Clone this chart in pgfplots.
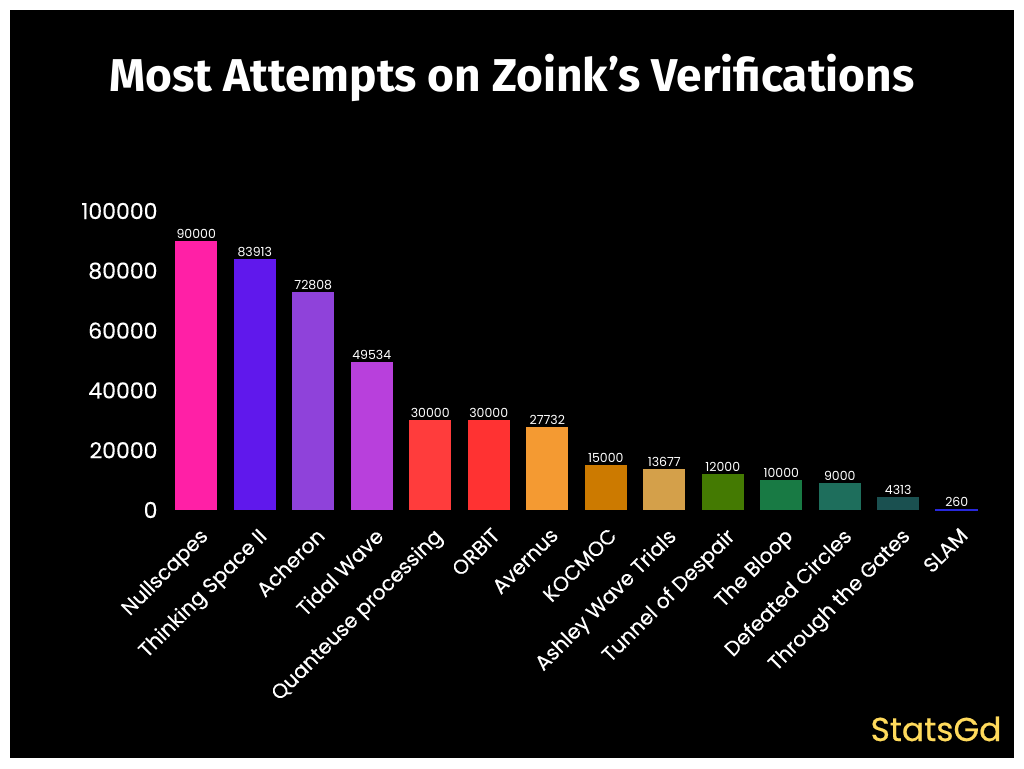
\documentclass[border=0pt]{standalone}
\usepackage{pgfplots}
\pgfplotsset{compat=1.18}
\usepackage{fontspec}
\setmainfont{Poppins}[FakeBold=0.3]
\newfontfamily\titlefont{Fira Sans}
\newfontfamily\medfont{Poppins}[FakeBold=0.6]
\newfontfamily\lightfont{Poppins}
\definecolor{c1}{RGB}{255,32,166}
\definecolor{c2}{RGB}{96,24,236}
\definecolor{c3}{RGB}{143,66,218}
\definecolor{c4}{RGB}{184,64,220}
\definecolor{c5}{RGB}{255,60,60}
\definecolor{c6}{RGB}{255,50,50}
\definecolor{c7}{RGB}{244,154,50}
\definecolor{c8}{RGB}{204,122,0}
\definecolor{c9}{RGB}{212,160,74}
\definecolor{c10}{RGB}{68,122,2}
\definecolor{c11}{RGB}{24,122,68}
\definecolor{c12}{RGB}{30,110,92}
\definecolor{c13}{RGB}{26,80,80}
\definecolor{c14}{RGB}{40,40,220}
\definecolor{brand}{RGB}{255,218,92}
\begin{document}
\begin{tikzpicture}
\useasboundingbox (0pt,0pt) rectangle (1024pt,768pt);
\fill[white] (0pt,0pt) rectangle (1024pt,768pt);
\fill[black] (10pt,10pt) rectangle (1014pt,758pt);
\node[anchor=base,text=white,font=\titlefont\bfseries\fontsize{46}{52}\selectfont] at (512pt,676pt) {Most Attempts on Zoink’s Verifications};
\node[anchor=base east,text=brand,font=\medfont\fontsize{33}{36}\selectfont] at (1005pt,27pt) {StatsGd};
\begin{axis}[
  at={(167pt,258pt)}, anchor=south west,
  scale only axis, width=819pt, height=299pt,
  xmin=-0.5, xmax=13.5, ymin=0, ymax=100000,
  axis line style={draw=none},
  major tick length=0pt,
  tick style={draw=none},
  scaled y ticks=false,
  ytick={0,20000,40000,60000,80000,100000},
  yticklabels={0,20000,40000,60000,80000,100000},
  yticklabel style={text=white,font=\fontsize{22}{25}\selectfont,xshift=-6pt},
  xtick={0,...,13},
  xticklabels={Nullscapes,Thinking Space II,Acheron,Tidal Wave,Quanteuse processing,ORBIT,Avernus,KOCMOC,Ashley Wave Trials,Tunnel of Despair,The Bloop,Defeated Circles,Through the Gates,SLAM},
  xticklabel style={text=white,font=\fontsize{20.5}{23}\selectfont,xshift=2pt,yshift=-15pt,rotate=45,anchor=north east,inner sep=1pt},
  ybar, bar width=42pt,
  every axis plot/.append style={bar shift=0pt,draw=none},
  point meta=explicit symbolic,
  nodes near coords,
  nodes near coords style={text=white,font=\lightfont\fontsize{12.5}{14}\selectfont,inner sep=2.5pt},
  clip=false,
]
\addplot[fill=c1] coordinates {(0,90000) [90000]};
\addplot[fill=c2] coordinates {(1,83913) [83913]};
\addplot[fill=c3] coordinates {(2,72808) [72808]};
\addplot[fill=c4] coordinates {(3,49534) [49534]};
\addplot[fill=c5] coordinates {(4,30000) [30000]};
\addplot[fill=c6] coordinates {(5,30000) [30000]};
\addplot[fill=c7] coordinates {(6,27732) [27732]};
\addplot[fill=c8] coordinates {(7,15000) [15000]};
\addplot[fill=c9] coordinates {(8,13677) [13677]};
\addplot[fill=c10] coordinates {(9,12000) [12000]};
\addplot[fill=c11] coordinates {(10,10000) [10000]};
\addplot[fill=c12] coordinates {(11,9000) [9000]};
\addplot[fill=c13] coordinates {(12,4313) [4313]};
\addplot[fill=c14,draw=c14,line width=0.8pt] coordinates {(13,260) [260]};
\end{axis}
\end{tikzpicture}
\end{document}
